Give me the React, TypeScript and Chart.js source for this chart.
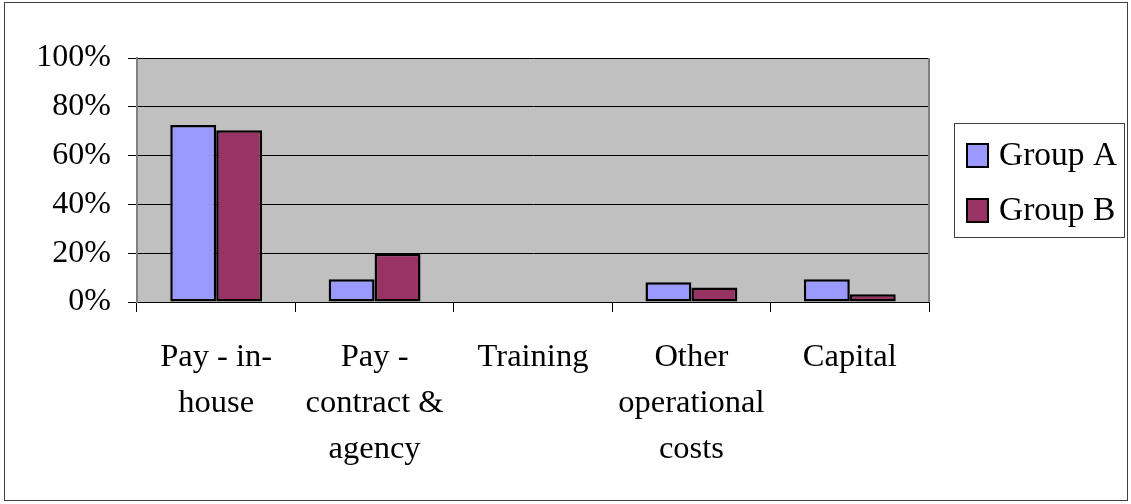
import React, { useEffect, useRef } from 'react';
import { Chart, registerables } from 'chart.js';
Chart.register(...registerables);

const categories: string[][] = [
  ['Pay - in-', 'house'],
  ['Pay -', 'contract &', 'agency'],
  ['Training'],
  ['Other', 'operational', 'costs'],
  ['Capital'],
];
const seriesNames = ['Group A', 'Group B'];
const groupA = [72.5, 9.3, 0, 8.1, 9.3];
const groupB = [70.4, 19.8, 0, 5.9, 3.2];
const seriesColors = ['#9999FF', '#993366'];
const yMin = 0;
const yMax = 100;
const yStep = 20;

const FONT = '"Liberation Serif", "Times New Roman", serif';

const framePlugin = {
  id: 'frame',
  beforeDraw(chart: any) {
    const { ctx, chartArea } = chart;
    ctx.save();
    ctx.fillStyle = '#ffffff';
    ctx.fillRect(0, 0, chart.width, chart.height);
    ctx.strokeStyle = '#404040';
    ctx.lineWidth = 1;
    ctx.strokeRect(4.5, 2.5, 1123, 498);
    ctx.fillStyle = '#C0C0C0';
    ctx.fillRect(chartArea.left, chartArea.top, chartArea.right - chartArea.left, chartArea.bottom - chartArea.top);
    ctx.restore();
  },
  afterDraw(chart: any) {
    const { ctx, chartArea } = chart;
    ctx.save();
    ctx.strokeStyle = '#808080';
    ctx.lineWidth = 2;
    ctx.beginPath();
    ctx.moveTo(chartArea.right, chartArea.top);
    ctx.lineTo(chartArea.right, chartArea.bottom);
    ctx.stroke();
    // legend
    const lx = 954, ly = 123, lw = 170, lh = 114;
    ctx.fillStyle = '#ffffff';
    ctx.fillRect(lx, ly, lw, lh);
    ctx.strokeStyle = '#404040';
    ctx.lineWidth = 1;
    ctx.strokeRect(lx + 0.5, ly + 0.5, lw, lh);
    const rows = [155, 210];
    chart.data.datasets.forEach((ds: any, i: number) => {
      const cy = rows[i];
      ctx.fillStyle = ds.backgroundColor;
      ctx.fillRect(967, cy - 11, 21, 23);
      ctx.strokeStyle = '#000';
      ctx.lineWidth = 2;
      ctx.strokeRect(967, cy - 11, 21, 23);
      ctx.fillStyle = '#000';
      ctx.font = `33.5px ${FONT}`;
      ctx.textBaseline = 'alphabetic';
      ctx.textAlign = 'left';
      ctx.fillText(ds.label, 999, cy + 10);
    });
    ctx.restore();
  },
};

export default function App() {
  const ref = useRef<HTMLCanvasElement>(null);
  useEffect(() => {
    document.body.style.margin = '0';
    const chart = new Chart(ref.current!, {
      type: 'bar',
      data: {
        labels: categories,
        datasets: [
          { label: seriesNames[0], data: groupA, backgroundColor: seriesColors[0], borderColor: '#000', borderWidth: 2.5, borderSkipped: false },
          { label: seriesNames[1], data: groupB, backgroundColor: seriesColors[1], borderColor: '#000', borderWidth: 2.5, borderSkipped: false },
        ],
      },
      options: {
        responsive: false,
        animation: false,
        layout: { padding: { top: 58, right: 202, bottom: 0, left: 0 } },
        datasets: { bar: { categoryPercentage: 0.58, barPercentage: 1.0 } },
        plugins: { legend: { display: false }, tooltip: { enabled: false } },
        scales: {
          x: {
            offset: true,
            grid: { offset: true, drawOnChartArea: false, drawTicks: true, tickLength: 10, color: '#000' },
            border: { display: true, color: '#000', width: 1 },
            ticks: { color: '#000', font: { family: FONT, size: 32.5, lineHeight: 1.42 }, padding: 22, maxRotation: 0, autoSkip: false },
            afterFit: (s: any) => { s.height = 202; },
          },
          y: {
            min: yMin,
            max: yMax,
            grid: { color: '#000', lineWidth: 1, drawTicks: true, tickLength: 9 },
            border: { display: true, color: '#808080', width: 2 },
            ticks: { stepSize: yStep, color: '#000', font: { family: FONT, size: 32 }, padding: 17, callback: (v: any) => v + '%' },
            afterFit: (s: any) => { s.width = 137; },
          },
        },
      },
      plugins: [framePlugin],
    });
    return () => chart.destroy();
  }, []);
  return <canvas ref={ref} width={1131} height={504} style={{ display: 'block' }} />;
}
